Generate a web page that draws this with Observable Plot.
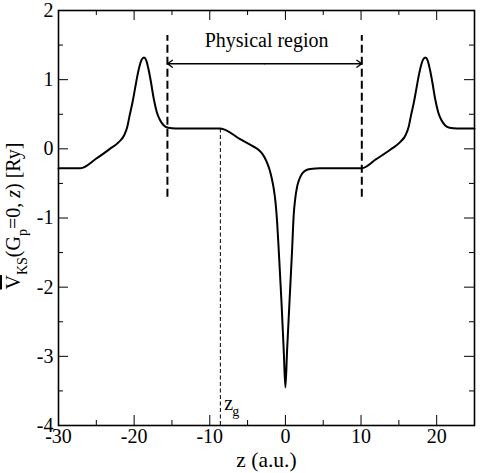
<!DOCTYPE html>
<html>
<head>
<meta charset="utf-8">
<script src="https://cdn.jsdelivr.net/npm/d3@7"></script>
<script src="https://cdn.jsdelivr.net/npm/@observablehq/plot@0.6"></script>
<style>
  body { margin: 0; background: #fff; }
  #chart svg, #chart svg text { font-family: "Liberation Serif", "DejaVu Serif", serif !important; }
</style>
</head>
<body>
<div id="chart"></div>
<script>
// Plane-averaged Kohn-Sham potential along z (Ry)
const zValues = [
  -30, -27.1, -25.0, -23.2, -22.0, -21.3, -20.9, -20.6, -20.2, -19.9, -19.6, -19.3, -19.0,
  -18.7, -18.4, -18.1, -17.8, -17.4, -17.0, -16.6, -16.1, -15.5, -14.5, -8.6,
  -6.0, -4.5, -3.6, -3.0, -2.5, -2.1, -1.8, -1.55, -1.3, -1.1, -0.88, -0.53, -0.22, 0,
  0.22, 0.55, 0.88, 1.1, 1.3, 1.54, 1.8, 2.2, 2.7, 3.3, 4.6, 10.1,
  12.0, 13.9, 15.2, 15.9, 16.3, 16.6, 17.0, 17.3, 17.6, 17.9, 18.2,
  18.5, 18.8, 19.1, 19.4, 19.8, 20.2, 20.6, 21.1, 21.7, 22.7, 25
];
const vValues = [
  -0.28, -0.28, -0.14, 0.00, 0.10, 0.20, 0.32, 0.48, 0.68, 0.86, 1.04, 1.19, 1.29,
  1.32, 1.28, 1.15, 0.98, 0.72, 0.53, 0.42, 0.34, 0.305, 0.295, 0.295,
  0.14, 0.05, -0.01, -0.08, -0.18, -0.30, -0.43, -0.57, -0.78, -1.05, -1.47, -2.19, -2.92, -3.45,
  -2.92, -2.19, -1.47, -0.95, -0.72, -0.55, -0.45, -0.36, -0.31, -0.29, -0.28, -0.28,
  -0.15, -0.01, 0.10, 0.20, 0.32, 0.48, 0.68, 0.86, 1.04, 1.19, 1.29,
  1.32, 1.28, 1.15, 0.98, 0.72, 0.53, 0.42, 0.34, 0.305, 0.295, 0.295
];

// Boundaries of the physical region and the gauge plane z_g
const regionBounds = [-15.6, 10.1];
const regionSpan = [-0.7, 1.64];
const arrowLevel = 1.23;
const regionLabel = "Physical region";
const regionLabelY = 1.56;
const zg = -8.6;
const zgTop = 0.295;
const zgLabelY = [-3.69, -3.805];

// Tick values
const xMajor = [-30, -20, -10, 0, 10, 20];
const xMinor = [-25, -15, -5, 5, 15, 25];
const yMajor = [-4, -3, -2, -1, 0, 1, 2];
const yMinor = [-3.5, -2.5, -1.5, -0.5, 0.5, 1.5];

const W = 480, H = 473;
const mL = 58, mR = 6, mT = 10, mB = 48;
const fw = W - mL - mR, fh = H - mT - mB;
const serif = "Liberation Serif";

const regionMid = (regionBounds[0] + regionBounds[1]) / 2;

// inward ticks on all four sides
function ticksX(values, len) {
  return [
    Plot.tickX(values, {x: d => d, insetTop: fh - len, strokeWidth: 1}),
    Plot.tickX(values, {x: d => d, insetBottom: fh - len, strokeWidth: 1})
  ];
}
function ticksY(values, len) {
  return [
    Plot.tickY(values, {y: d => d, insetRight: fw - len, strokeWidth: 1}),
    Plot.tickY(values, {y: d => d, insetLeft: fw - len, strokeWidth: 1})
  ];
}

const chart = Plot.plot({
  width: W,
  height: H,
  marginLeft: mL,
  marginRight: mR,
  marginTop: mT,
  marginBottom: mB,
  style: {fontFamily: serif, background: "#fff", color: "#000"},
  x: {domain: [-30, 25]},
  y: {domain: [-4, 2]},
  marks: [
    ...ticksX(xMajor, 10),
    ...ticksX(xMinor, 5),
    ...ticksY(yMajor, 10),
    ...ticksY(yMinor, 5),
    Plot.axisX(xMajor, {anchor: "bottom", tickSize: 0, tickPadding: 3, tickFormat: d => String(d),
      fontSize: 20, fontFamily: serif, label: null}),
    Plot.axisY(yMajor, {anchor: "left", tickSize: 0, tickPadding: 5, tickFormat: d => String(d),
      fontSize: 20, fontFamily: serif, label: null}),
    Plot.ruleX(regionBounds, {x: d => d, y1: regionSpan[0], y2: regionSpan[1],
      strokeWidth: 2, strokeDasharray: "8,4"}),
    Plot.ruleX([zg], {x: d => d, y1: -4, y2: zgTop, strokeWidth: 1, strokeDasharray: "4,2.5"}),
    Plot.arrow(regionBounds, {x1: () => regionMid, x2: d => d, y1: arrowLevel, y2: arrowLevel,
      strokeWidth: 1.3, headLength: 7, headAngle: 70}),
    Plot.text([regionLabel], {x: regionMid, y: regionLabelY, lineAnchor: "middle",
      fontSize: 20, fontFamily: serif, dx: 2}),
    Plot.text(["z"], {x: zg, y: zgLabelY[0], dx: 4, textAnchor: "start", lineAnchor: "middle",
      fontSize: 20, fontFamily: serif}),
    Plot.text(["g"], {x: zg, y: zgLabelY[1], dx: 12, textAnchor: "start", lineAnchor: "middle",
      fontSize: 14, fontFamily: serif}),
    Plot.text(["z (a.u.)"], {frameAnchor: "bottom", lineAnchor: "bottom", dy: 41,
      fontSize: 21.5, fontFamily: serif}),
    Plot.line({length: zValues.length}, {x: zValues, y: vValues, strokeWidth: 2, curve: "monotone-x"}),
    Plot.frame({strokeWidth: 1.6})
  ]
});

// y-axis title with subscripts and overbar
const svg = d3.select(chart);
const lab = svg.append("text")
  .attr("transform", `translate(20,216) rotate(-90)`)
  .attr("text-anchor", "middle")
  .attr("font-size", 20)
  .attr("font-family", serif)
  .attr("fill", "#000");
lab.append("tspan").attr("style", "text-decoration: overline").text("V");
lab.append("tspan").attr("font-size", 14).attr("dy", 7).text("KS");
lab.append("tspan").attr("dy", -7).text("(G");
lab.append("tspan").attr("font-size", 14).attr("dy", 7).text("p");
lab.append("tspan").attr("dy", -7).text("=0, ");
lab.append("tspan").attr("font-style", "italic").text("z");
lab.append("tspan").text(") [Ry]");

document.getElementById("chart").append(chart);
</script>
</body>
</html>
